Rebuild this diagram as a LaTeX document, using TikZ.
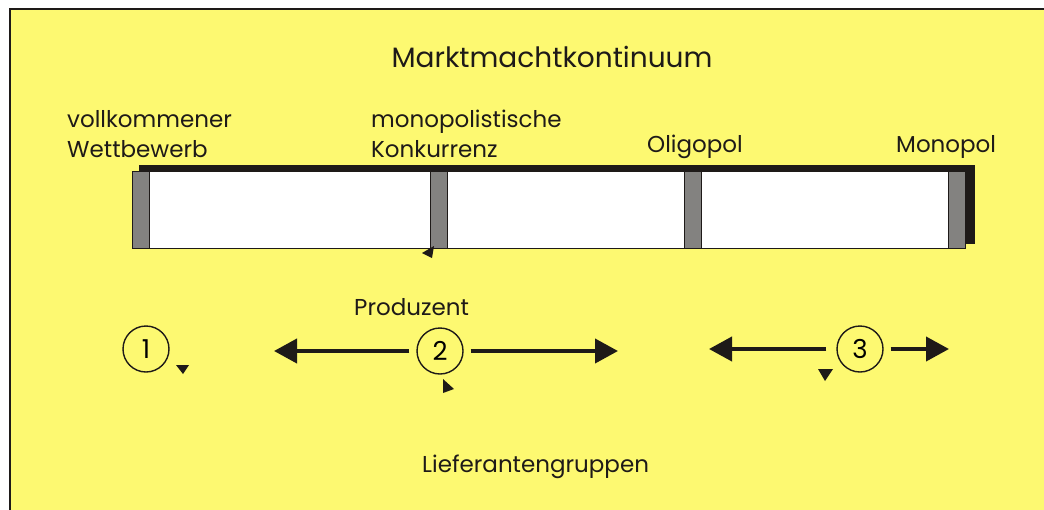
\documentclass[tikz,border=0pt]{standalone}
\usepackage{fontspec}
\setmainfont{Poppins}
\usetikzlibrary{arrows.meta}
\definecolor{paleyellow}{HTML}{FDF971}
\definecolor{bargray}{HTML}{838280}
\definecolor{inkblack}{HTML}{1E1A18}
\begin{document}
\begin{tikzpicture}[x=1pt,y=-1pt,
    lbl/.style={font=\fontsize{23}{30}\selectfont, inner sep=0pt, anchor=base west, align=left, text=inkblack},
    numcircle/.style={draw=inkblack, line width=1.4pt, circle, minimum size=46pt, inner sep=0pt, font=\fontsize{26}{26}\selectfont},
    bigarrow/.style={line width=4pt, draw=inkblack, -{Triangle[length=23pt,width=24pt]}, shorten <=7pt}]
    \useasboundingbox (0,0) rectangle (1044,509);
    % Draw the yellow panel
    \fill[white] (0,0) rectangle (1044,509);
    \draw[fill=paleyellow, draw=inkblack, line width=2pt] (10,9) rectangle (1060,525);
    \node[lbl, anchor=base, font=\fontsize{28}{34}\selectfont] (title) at (552,67) {Marktmachtkontinuum};

    % Draw the bar with its shadow
    \fill[inkblack] (139,165) rectangle (975,244);
    \draw[fill=white, draw=inkblack, line width=1pt] (132,171) rectangle (965,248);
    \foreach \x in {132,430,684,948}
        \draw[fill=bargray, draw=inkblack, line width=1pt] (\x,171) rectangle ++(17,77);

    % market forms
    \node[lbl] (vw) at (67,157) {vollkommener\\Wettbewerb};
    \node[lbl] (mk) at (371,157) {monopolistische\\Konkurrenz};
    \node[lbl] (oligo) at (647,152) {Oligopol};
    \node[lbl] (mono) at (896,152) {Monopol};

    % supplier groups
    \node[lbl] (prod) at (354,315) {Produzent};
    \node[numcircle] (n1) at (146,349) {1};
    \node[numcircle] (n2) at (440,351) {2};
    \node[numcircle] (n3) at (860,349) {3};
    \coordinate (l2) at (274,351);
    \coordinate (r2) at (618,351);
    \coordinate (l3) at (709,349);
    \coordinate (r3) at (949,349);
    \draw[bigarrow] (n2) -- (l2);
    \draw[bigarrow] (n2) -- (r2);
    \draw[bigarrow, shorten <=10pt] (n3) -- (l3);
    \draw[bigarrow] (n3) -- (r3);
    \node[lbl] (lief) at (422,472) {Lieferantengruppen};

    % small markers
    \fill[inkblack] (434,246) -- (422,253) -- (432,258) -- cycle;
    \fill[inkblack] (176,365) -- (189,365) -- (183,374) -- cycle;
    \fill[inkblack] (443,379) -- (443,393) -- (454,389) -- cycle;
    \fill[inkblack] (818,369) -- (833,369) -- (825,381) -- cycle;
\end{tikzpicture}
\end{document}
